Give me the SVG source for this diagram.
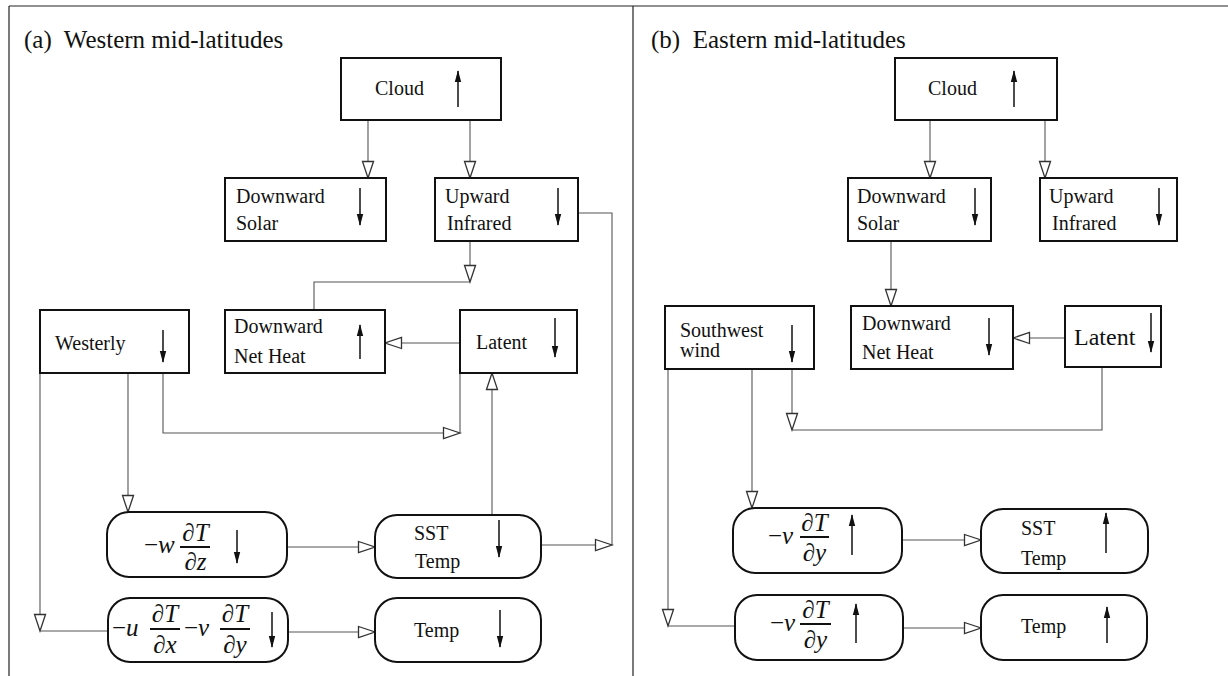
<svg xmlns="http://www.w3.org/2000/svg" width="1228" height="676" viewBox="0 0 1228 676">
<style>
.t{font-family:"Liberation Serif","Times New Roman",serif;font-size:20px;fill:#111}
.big{font-size:24px}
.ttl{font-family:"Liberation Serif","Times New Roman",serif;font-size:25px;fill:#111}
.m{font-family:"Liberation Serif","Times New Roman",serif;font-size:25px;fill:#111}
.mi{font-style:italic}
.box{fill:#fff;stroke:#111;stroke-width:2}
.fr{stroke:#222;stroke-width:1.2;fill:none}
.ind{stroke:#111;stroke-width:1.5;fill:none;marker-end:url(#ah)}
.c{stroke:#555;stroke-width:1.1;fill:none}
.ca{stroke:#555;stroke-width:1.1;fill:none;marker-end:url(#oh)}
.fl{stroke:#111;stroke-width:2}
</style>
<defs>
<marker id="ah" markerUnits="userSpaceOnUse" markerWidth="12" markerHeight="8" refX="11" refY="4" orient="auto" viewBox="0 0 12 8">
<path d="M0,0.8 L12,4 L0,7.2 z" fill="#111"/>
</marker>
<marker id="oh" markerUnits="userSpaceOnUse" markerWidth="20" markerHeight="14" refX="18" refY="7" orient="auto" viewBox="0 0 20 14">
<path d="M1.5,1.5 L18,7 L1.5,12.5 z" fill="#fff" stroke="#333" stroke-width="1.3"/>
</marker>
</defs>
<rect width="1228" height="676" fill="#fff"/>
<g id="frame">
<line class="fr" x1="9" y1="6" x2="1228" y2="6"/>
<line class="fr" x1="9" y1="6" x2="9" y2="676"/>
<line class="fr" x1="633" y1="6" x2="633" y2="676"/>
<text class="ttl" x="24" y="48" xml:space="preserve">(a)  Western mid-latitudes</text>
<text class="ttl" x="651" y="48" xml:space="preserve">(b)  Eastern mid-latitudes</text>
</g>
<g id="connectors">
<path class="ca" d="M368,120 V178"/>
<path class="ca" d="M470,120 V178"/>
<path class="ca" d="M470,241 V282"/>
<path class="c" d="M470,282 H314 V310"/>
<path class="c" d="M578,213 H612 V545"/>
<path class="ca" d="M541,545 H612"/>
<path class="ca" d="M460,343 H385"/>
<path class="ca" d="M163,373 V433 H460"/>
<path class="c" d="M460,433 V373"/>
<path class="ca" d="M128,373 V512"/>
<path class="ca" d="M40,373 V631"/>
<path class="c" d="M40,631 H108"/>
<path class="ca" d="M492,515 V373"/>
<path class="ca" d="M287,547 H375"/>
<path class="ca" d="M288,632 H375"/>
<path class="ca" d="M930,120 V178"/>
<path class="ca" d="M1045,120 V178"/>
<path class="ca" d="M891,241 V306"/>
<path class="ca" d="M1065,338 H1013"/>
<path class="ca" d="M792,369 V430"/>
<path class="c" d="M792,430 H1102 V367"/>
<path class="ca" d="M752,369 V508"/>
<path class="ca" d="M668,369 V626"/>
<path class="c" d="M668,626 H735"/>
<path class="ca" d="M902,540 H981"/>
<path class="ca" d="M903,628 H981"/>
</g>
<g id="a-cloud">
<rect class="box" x="341" y="58" width="160" height="62"/>
<text class="t" x="375" y="95">Cloud</text>
<line class="ind" x1="458" y1="107" x2="458" y2="71"/>
</g>
<g id="a-solar">
<rect class="box" x="225" y="178" width="161" height="63"/>
<text class="t" x="236" y="203">Downward</text>
<text class="t" x="236" y="230">Solar</text>
<line class="ind" x1="360" y1="188" x2="360" y2="225"/>
</g>
<g id="a-infrared">
<rect class="box" x="435" y="178" width="143" height="63"/>
<text class="t" x="445" y="203">Upward</text>
<text class="t" x="447" y="230">Infrared</text>
<line class="ind" x1="558" y1="188" x2="558" y2="225"/>
</g>
<g id="a-westerly">
<rect class="box" x="40" y="310" width="149" height="63"/>
<text class="t" x="55" y="350">Westerly</text>
<line class="ind" x1="163" y1="330" x2="163" y2="362"/>
</g>
<g id="a-netheat">
<rect class="box" x="225" y="310" width="160" height="63"/>
<text class="t" x="234" y="333">Downward</text>
<text class="t" x="234" y="363">Net Heat</text>
<line class="ind" x1="360" y1="359" x2="360" y2="325"/>
</g>
<g id="a-latent">
<rect class="box" x="460" y="310" width="117" height="63"/>
<text class="t" x="476" y="349">Latent</text>
<line class="ind" x1="555" y1="318" x2="555" y2="357"/>
</g>
<g id="a-wdz">
<rect class="box" x="107" y="512" width="180" height="65" rx="22"/>
<text class="m" x="144" y="553">−<tspan class="mi">w</tspan></text>
<text class="m mi" x="195.5" y="541" text-anchor="middle">∂T</text>
<line class="fl" x1="180" y1="547" x2="210" y2="547"/>
<text class="m mi" x="195.5" y="570" text-anchor="middle">∂z</text>
<line class="ind" x1="237" y1="530" x2="237" y2="563"/>
</g>
<g id="a-sst">
<rect class="box" x="375" y="515" width="166" height="63" rx="22"/>
<text class="t" x="414" y="540">SST</text>
<text class="t" x="415" y="568">Temp</text>
<line class="ind" x1="499" y1="520" x2="499" y2="557"/>
</g>
<g id="a-uv">
<rect class="box" x="108" y="598" width="180" height="64" rx="22"/>
<text class="m" x="112" y="636">−<tspan class="mi">u</tspan></text>
<text class="m mi" x="165" y="622" text-anchor="middle">∂T</text>
<line class="fl" x1="150" y1="629" x2="180" y2="629"/>
<text class="m mi" x="165" y="653" text-anchor="middle">∂x</text>
<text class="m" x="184" y="636">−<tspan class="mi">v</tspan></text>
<text class="m mi" x="235" y="622" text-anchor="middle">∂T</text>
<line class="fl" x1="220" y1="629" x2="250" y2="629"/>
<text class="m mi" x="235" y="653" text-anchor="middle">∂y</text>
<line class="ind" x1="272" y1="612" x2="272" y2="647"/>
</g>
<g id="a-temp">
<rect class="box" x="375" y="598" width="166" height="64" rx="22"/>
<text class="t" x="414" y="637">Temp</text>
<line class="ind" x1="500" y1="610" x2="500" y2="647"/>
</g>
<g id="b-cloud">
<rect class="box" x="895" y="58" width="162" height="62"/>
<text class="t" x="928" y="95">Cloud</text>
<line class="ind" x1="1014" y1="107" x2="1014" y2="71"/>
</g>
<g id="b-solar">
<rect class="box" x="848" y="178" width="143" height="63"/>
<text class="t" x="857" y="203">Downward</text>
<text class="t" x="857" y="230">Solar</text>
<line class="ind" x1="975" y1="188" x2="975" y2="225"/>
</g>
<g id="b-infrared">
<rect class="box" x="1040" y="178" width="137" height="63"/>
<text class="t" x="1049" y="203">Upward</text>
<text class="t" x="1052" y="230">Infrared</text>
<line class="ind" x1="1159" y1="188" x2="1159" y2="225"/>
</g>
<g id="b-southwest">
<rect class="box" x="665" y="306" width="149" height="63"/>
<text class="t" x="680" y="337">Southwest</text>
<text class="t" x="680" y="357">wind</text>
<line class="ind" x1="792" y1="325" x2="792" y2="362"/>
</g>
<g id="b-netheat">
<rect class="box" x="851" y="306" width="162" height="63"/>
<text class="t" x="862" y="330">Downward</text>
<text class="t" x="862" y="359">Net Heat</text>
<line class="ind" x1="989" y1="318" x2="989" y2="355"/>
</g>
<g id="b-latent">
<rect class="box" x="1065" y="306" width="96" height="61"/>
<text class="t big" x="1074" y="345">Latent</text>
<line class="ind" x1="1151" y1="313" x2="1151" y2="352"/>
</g>
<g id="b-vdy1">
<rect class="box" x="733" y="508" width="169" height="65" rx="22"/>
<text class="m" x="768" y="544">−<tspan class="mi">v</tspan></text>
<text class="m mi" x="814.5" y="531" text-anchor="middle">∂T</text>
<line class="fl" x1="800" y1="537" x2="829" y2="537"/>
<text class="m mi" x="814.5" y="561" text-anchor="middle">∂y</text>
<line class="ind" x1="852" y1="555" x2="852" y2="515"/>
</g>
<g id="b-sst">
<rect class="box" x="981" y="509" width="167" height="64" rx="22"/>
<text class="t" x="1021" y="535">SST</text>
<text class="t" x="1021" y="565">Temp</text>
<line class="ind" x1="1106" y1="553" x2="1106" y2="513"/>
</g>
<g id="b-vdy2">
<rect class="box" x="735" y="595" width="168" height="65" rx="22"/>
<text class="m" x="770" y="631">−<tspan class="mi">v</tspan></text>
<text class="m mi" x="815.5" y="618" text-anchor="middle">∂T</text>
<line class="fl" x1="800" y1="624" x2="831" y2="624"/>
<text class="m mi" x="815.5" y="648" text-anchor="middle">∂y</text>
<line class="ind" x1="856" y1="643" x2="856" y2="604"/>
</g>
<g id="b-temp">
<rect class="box" x="981" y="595" width="166" height="65" rx="22"/>
<text class="t" x="1021" y="633">Temp</text>
<line class="ind" x1="1107" y1="643" x2="1107" y2="607"/>
</g>
</svg>
